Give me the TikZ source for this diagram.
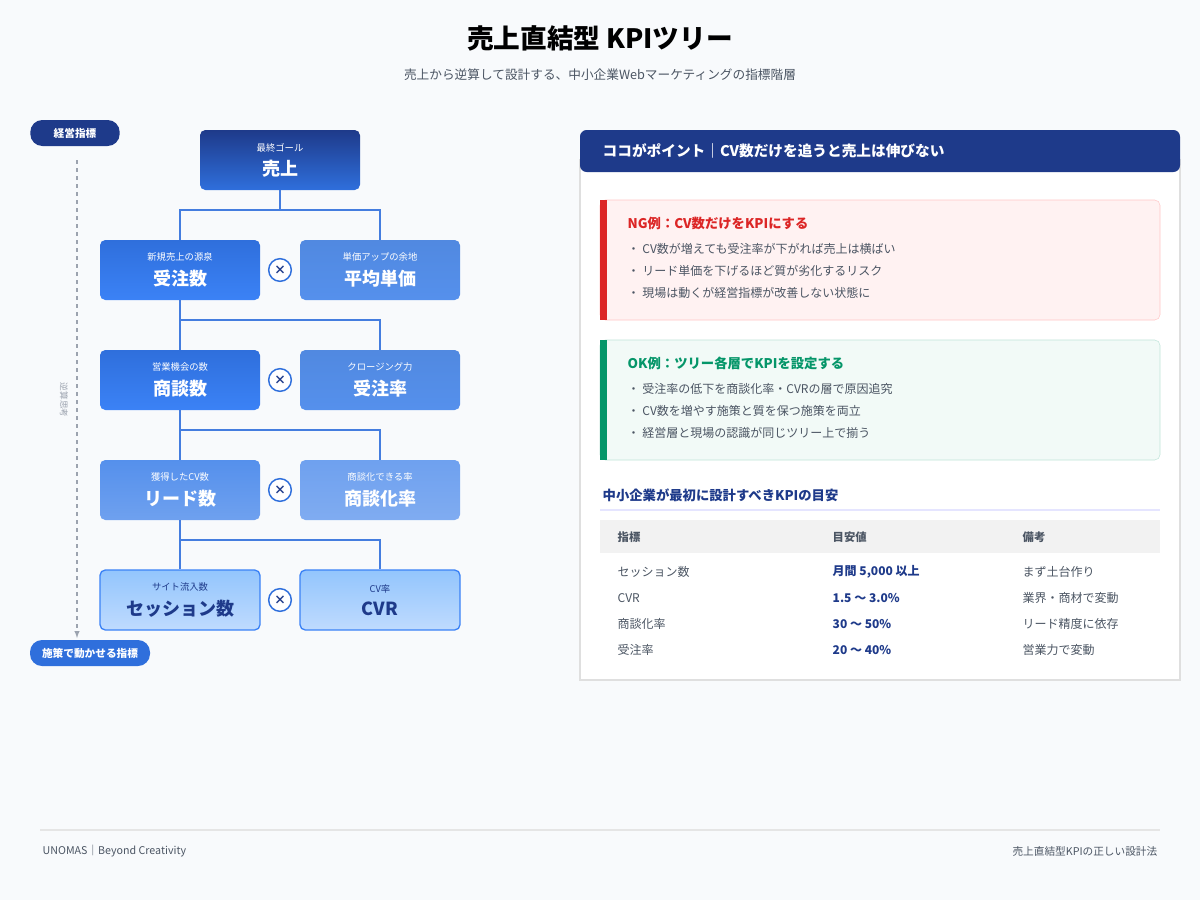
\documentclass[tikz,border=0pt]{standalone}
\usepackage{fontspec}
\setmainfont{Noto Sans CJK JP}
\usetikzlibrary{positioning}
\definecolor{navy}{HTML}{1E3A8A}
\definecolor{bluemain}{HTML}{2F6FDC}
\definecolor{bluelight}{HTML}{3B82F6}
\definecolor{blueside}{HTML}{5590EC}
\definecolor{bluepale}{HTML}{93C5FD}
\definecolor{bluepaler}{HTML}{BFDBFE}
\definecolor{inkgray}{HTML}{4B5563}
\definecolor{lightgray}{HTML}{9CA3AF}
\definecolor{bgpage}{HTML}{F8FAFC}
\definecolor{ngred}{HTML}{DC2626}
\definecolor{okgreen}{HTML}{059669}
\tikzset{
  pill/.style={rounded corners=9pt, minimum height=19.5pt, inner xsep=9pt, text=white, font=\bfseries\fontsize{8}{10}\selectfont},
  kpibox/.style={rounded corners=4pt, minimum width=120pt, minimum height=45pt, align=center, text=white},
  times/.style={circle, draw=bluemain, line width=1.1pt, fill=white, minimum size=17pt, inner sep=0pt, text=navy, font=\bfseries\small},
  tree/.style={draw=bluemain!90, line width=1.2pt},
  bullet/.style={anchor=west, text=inkgray, font=\fontsize{9}{11}\selectfont},
  cell/.style={anchor=west, text=inkgray, font=\fontsize{9}{11}\selectfont},
}
\newcommand{\kpi}[2]{{\fontsize{7}{8}\selectfont #1}\\[5pt]{\bfseries\fontsize{13.5}{15}\selectfont #2}}
\begin{document}
\begin{tikzpicture}[x=0.75pt, y=-0.75pt]
\fill[bgpage] (0,0) rectangle (1200,900);
\useasboundingbox (0,0) rectangle (1200,900);

% Title
\node (title) at (600,38) {\bfseries\fontsize{20}{24}\selectfont 売上直結型 KPIツリー};
\node (subtitle) at (600,75) [text=inkgray, font=\fontsize{9.5}{11}\selectfont] {売上から逆算して設計する、中小企業Webマーケティングの指標階層};

% Side axis
\node (top) [pill, fill=navy, minimum width=67pt] at (75,133) {経営指標};
\node (bottom) [pill, fill=bluemain] at (90,653) {施策で動かせる指標};
\draw [lightgray, dashed, line width=0.8pt, -latex] (77,160) -- (77,638);
\node (axis) [rotate=-90, text=lightgray, font=\fontsize{6.5}{8}\selectfont] at (64,400) {逆算思考};

% Goal
\node (goal) [kpibox, top color=navy, bottom color=bluemain] at (280,160) {\kpi{最終ゴール}{売上}};

% Rows
\node (orders) [kpibox, top color=bluemain, bottom color=bluelight] at (180,270) {\kpi{新規売上の源泉}{受注数}};
\node (price) [kpibox, top color=blueside!95!black, bottom color=blueside] at (380,270) {\kpi{単価アップの余地}{平均単価}};
\node (deals) [kpibox, top color=bluemain, bottom color=bluelight] at (180,380) {\kpi{営業機会の数}{商談数}};
\node (winrate) [kpibox, top color=blueside!95!black, bottom color=blueside] at (380,380) {\kpi{クロージング力}{受注率}};
\node (leads) [kpibox, top color=blueside, bottom color=blueside!85!white] at (180,490) {\kpi{獲得したCV数}{リード数}};
\node (dealrate) [kpibox, top color=blueside!85!white, bottom color=blueside!75!white] at (380,490) {\kpi{商談化できる率}{商談化率}};
\node (sessions) [kpibox, draw=bluelight, line width=1pt, top color=bluepale, bottom color=bluepaler, text=navy] at (180,600) {\kpi{サイト流入数}{セッション数}};
\node (cvr) [kpibox, draw=bluelight, line width=1pt, top color=bluepale, bottom color=bluepaler, text=navy] at (380,600) {\kpi{CV率}{CVR}};
\foreach \y in {270,380,490,600}
  \node [times] at (280,\y) {×};

% Tree connectors
\draw [tree] (goal.south) -- ++(0,20) -| (orders.north);
\draw [tree] (goal.south) -- ++(0,20) -| (price.north);
\draw [tree] (orders.south) -- ++(0,20) -| (deals.north);
\draw [tree] (orders.south) -- ++(0,20) -| (winrate.north);
\draw [tree] (deals.south) -- ++(0,20) -| (leads.north);
\draw [tree] (deals.south) -- ++(0,20) -| (dealrate.north);
\draw [tree] (leads.south) -- ++(0,20) -| (sessions.north);
\draw [tree] (leads.south) -- ++(0,20) -| (cvr.north);

% Right panel
\filldraw [fill=white, draw=gray!25, line width=1pt] (580,160) rectangle (1180,680);
\fill [navy, rounded corners=5pt] (580,130) rectangle (1180,172);
\node (point) [anchor=west, text=white, font=\bfseries\fontsize{11}{13}\selectfont] at (598,151) {ココがポイント｜CV数だけを追うと売上は伸びない};

% NG box
\filldraw [fill=red!5, draw=red!22, rounded corners=4pt] (600,200) rectangle (1160,320);
\fill [ngred] (600,200) rectangle (607,320);
\node (ng) [anchor=west, text=ngred, font=\bfseries\fontsize{10}{12}\selectfont] at (623,223) {NG例：CV数だけをKPIにする};
\node [bullet] at (623,249) {・ CV数が増えても受注率が下がれば売上は横ばい};
\node [bullet] at (623,271) {・ リード単価を下げるほど質が劣化するリスク};
\node [bullet] at (623,293) {・ 現場は動くが経営指標が改善しない状態に};

% OK box
\filldraw [fill=okgreen!5, draw=okgreen!25, rounded corners=4pt] (600,340) rectangle (1160,460);
\fill [okgreen] (600,340) rectangle (607,460);
\node (ok) [anchor=west, text=okgreen, font=\bfseries\fontsize{10}{12}\selectfont] at (623,363) {OK例：ツリー各層でKPIを設定する};
\node [bullet] at (623,389) {・ 受注率の低下を商談化率・CVRの層で原因追究};
\node [bullet] at (623,411) {・ CV数を増やす施策と質を保つ施策を両立};
\node [bullet] at (623,433) {・ 経営層と現場の認識が同じツリー上で揃う};

% Table
\node (guide) [anchor=west, text=navy, font=\bfseries\fontsize{10}{12}\selectfont] at (598,495) {中小企業が最初に設計すべきKPIの目安};
\draw [blue!10, line width=1pt] (600,510) -- (1160,510);
\fill [gray!10] (600,520) rectangle (1160,553);
\node [cell, font=\bfseries\fontsize{8.5}{10}\selectfont] at (613,537) {指標};
\node [cell, font=\bfseries\fontsize{8.5}{10}\selectfont] at (828,537) {目安値};
\node [cell, font=\bfseries\fontsize{8.5}{10}\selectfont] at (1018,537) {備考};
\foreach \y/\a/\b/\c in {572/セッション数/月間 5{,}000 以上/まず土台作り, 598/CVR/1.5 〜 3.0\%/業界・商材で変動, 624/商談化率/30 〜 50\%/リード精度に依存, 650/受注率/20 〜 40\%/営業力で変動}{
  \node [cell] at (613,\y) {\a};
  \node [cell, text=navy, font=\bfseries\fontsize{9}{11}\selectfont] at (828,\y) {\b};
  \node [cell] at (1018,\y) {\c};
}

% Footer
\draw [gray!20, line width=0.8pt] (40,830) -- (1160,830);
\node (brand) [anchor=west, text=inkgray, font=\fontsize{8}{10}\selectfont] at (38,851) {UNOMAS｜Beyond Creativity};
\node (topic) [anchor=east, text=inkgray, font=\fontsize{8}{10}\selectfont] at (1162,851) {売上直結型KPIの正しい設計法};
\end{tikzpicture}
\end{document}
